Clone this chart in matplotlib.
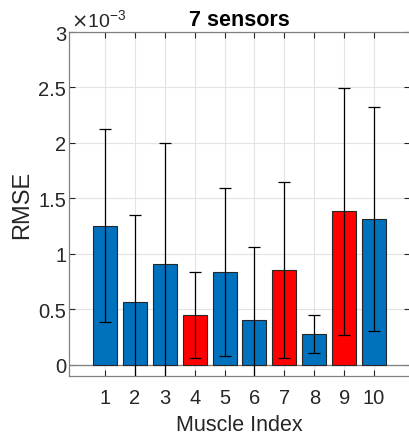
import matplotlib
matplotlib.use("Agg")
import matplotlib.pyplot as plt
import numpy as np

plt.rcParams['font.family'] = ['Liberation Sans', 'DejaVu Sans']

muscles = [1, 2, 3, 4, 5, 6, 7, 8, 9, 10]
rmse = [1.255, 0.565, 0.91, 0.45, 0.835, 0.405, 0.856, 0.279, 1.385, 1.315]  # x1e-3
err = [0.872, 0.789, 1.09, 0.385, 0.757, 0.661, 0.796, 0.174, 1.113, 1.005]  # x1e-3
highlight = [False, False, False, True, False, False, True, False, True, False]
yticks = [0, 0.5, 1, 1.5, 2, 2.5, 3]
ytick_labels = ['0', '0.5', '1', '1.5', '2', '2.5', '3']

scale = 1e-3
vals = np.array(rmse) * scale
errs = np.array(err) * scale
colors = ['#FF0000' if h else '#0072BD' for h in highlight]

fig = plt.figure(figsize=(4.09, 4.39), dpi=100)
ax = fig.add_axes([69/409, 62/439, 341/409, 344/439])

ax.bar(muscles, vals, width=0.8, color=colors, edgecolor='#262626', linewidth=0.8, zorder=3)
ax.errorbar(muscles, vals, yerr=errs, fmt='none', ecolor='black', elinewidth=0.9,
            capsize=4, capthick=0.9, zorder=4)
ax.axhline(0, color='#808080', linewidth=0.9, zorder=2)

ax.set_xlim(-0.2, 11.2)
ax.set_ylim(-0.1e-3, 3e-3)
ax.set_xticks(muscles)
ax.set_xticklabels([str(m) for m in muscles], fontsize=14.5, color='#262626')
ax.set_yticks(np.array(yticks) * scale)
ax.set_yticklabels(ytick_labels, fontsize=14.5, color='#262626')
ax.tick_params(direction='in', length=4, color='#262626', top=True, right=True)
ax.tick_params(axis='y', pad=2)
ax.tick_params(axis='x', pad=9)
ax.grid(True, color='#e3e3e3', linewidth=0.8, zorder=0)
ax.set_axisbelow(True)
for s in ['left', 'bottom', 'top']:
    ax.spines[s].set_color('#808080')
    ax.spines[s].set_linewidth(0.9)
ax.spines['right'].set_visible(False)

ax.set_xlabel('Muscle Index', fontsize=15.5, color='#262626', labelpad=5)
ax.set_ylabel('RMSE', fontsize=17, color='#262626', labelpad=4)
ax.set_title('7 sensors', fontsize=15.5, fontweight='bold', pad=5)
ax.text(0.005, 1.005, r'$\times\mathregular{10^{-3}}$', transform=ax.transAxes,
        fontsize=14, color='#262626', ha='left', va='bottom')

fig.savefig('out.png', dpi=100)
